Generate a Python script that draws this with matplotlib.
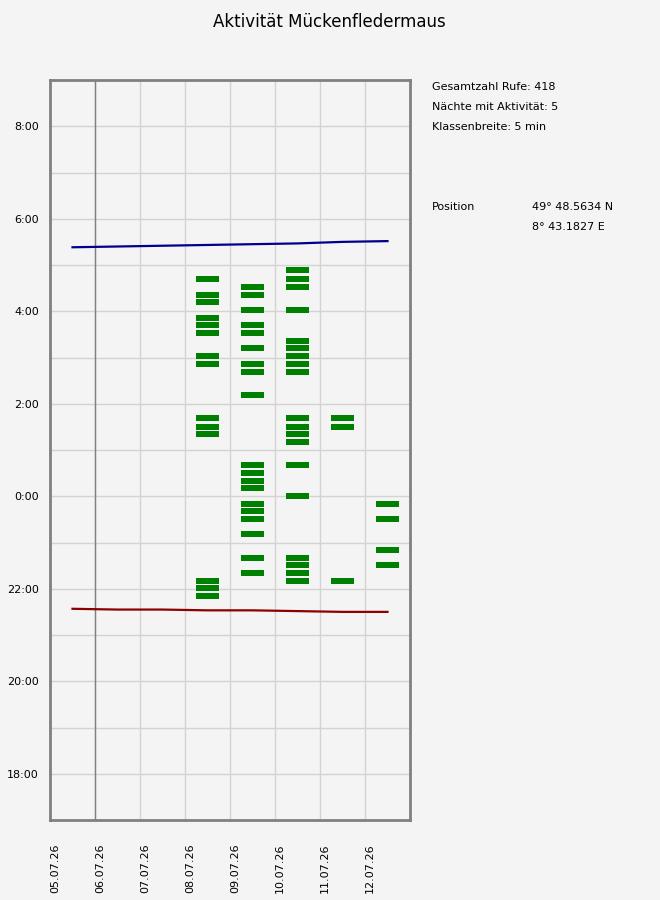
import matplotlib
matplotlib.use("Agg")
import matplotlib.pyplot as plt

# x axis: one label per date
dates = ['05.07.26', '06.07.26', '07.07.26', '08.07.26',
         '09.07.26', '10.07.26', '11.07.26', '12.07.26']

# sunrise / sunset per night (plotted in the middle of each day)
sunrise = ['5:23', '5:24', '5:25', '5:26', '5:27', '5:28', '5:30', '5:31']
sunset = ['21:34', '21:33', '21:33', '21:32', '21:32', '21:31', '21:30', '21:30']

# activity classes (5 min) per night, by start date of the night
night_0807 = ['4:42', '4:21', '4:12', '3:51', '3:42', '3:32', '3:02', '2:51',
              '1:41', '1:30', '1:21', '22:10', '22:01', '21:50']
night_0907 = ['4:32', '4:21', '4:02', '3:42', '3:32', '3:12', '2:51', '2:41',
              '2:11', '0:41', '0:30', '0:20', '0:11', '23:50', '23:41', '23:31',
              '23:11', '22:40', '22:20']
night_1007 = ['4:53', '4:42', '4:32', '4:02', '3:21', '3:12', '3:02', '2:51',
              '2:41', '1:41', '1:30', '1:21', '1:11', '0:41', '0:00', '22:40',
              '22:31', '22:20', '22:10']
night_1107 = ['1:41', '1:30', '22:10']
night_1207 = ['23:50', '23:31', '22:50', '22:31']

nights = {'08.07.26': night_0807, '09.07.26': night_0907, '10.07.26': night_1007,
          '11.07.26': night_1107, '12.07.26': night_1207}

info_lines = ['Gesamtzahl Rufe: 418', 'Nächte mit Aktivität: 5', 'Klassenbreite: 5 min']
position = ['49° 48.5634 N', '8° 43.1827 E']


def to_hours(s):
    h, m = s.split(':')
    v = int(h) + int(m) / 60.0
    if v >= 12:
        v -= 24
    return v


bg = '#f4f4f4'
plt.rcParams['font.family'] = 'DejaVu Sans'
fig = plt.figure(figsize=(6.6, 9), dpi=100, facecolor=bg)
ax = fig.add_axes([50/660, 80/900, 360/660, 740/900], facecolor=bg)

# grid
for d in range(1, len(dates)):
    ax.axvline(d, color='#d3d3d3', lw=1, zorder=0)
for h in range(-6, 9):
    ax.axhline(h, color='#d3d3d3', lw=1, zorder=0)
ax.axvline(1, color='#808080', lw=1, zorder=1)

# activity bars
for name, times in nights.items():
    xc = dates.index(name) + 0.5
    for t in times:
        y = to_hours(t)
        ax.bar(xc, 0.13, bottom=y - 0.065, width=0.51, color='#008000', zorder=3)

xs = [i + 0.5 for i in range(len(dates))]
ax.plot(xs, [to_hours(s) for s in sunrise], color='#00008b', lw=1.6, zorder=4)
ax.plot(xs, [to_hours(s) for s in sunset], color='#8b0000', lw=1.6, zorder=4)

ax.set_xlim(0, 8)
ax.set_ylim(-7, 9)
ax.set_xticks(range(len(dates)))
ax.set_xticklabels(dates, rotation=90, ha='left', va='top', fontsize=8)
yt = [-6, -4, -2, 0, 2, 4, 6, 8]
ax.set_yticks(yt)
ax.set_yticklabels(['%d:00' % (v % 24) for v in yt], fontsize=8)
ax.tick_params(axis='x', length=0, pad=17)
ax.tick_params(axis='y', length=0, pad=8)
for sp in ax.spines.values():
    sp.set_color('#808080')
    sp.set_linewidth(2)

fig.text(329/660, 1 - 22/900, 'Aktivität Mückenfledermaus', ha='center', va='center', fontsize=12)
for i, line in enumerate(info_lines):
    fig.text(432/660, 1 - (87 + 20*i)/900, line, ha='left', va='center', fontsize=8)
fig.text(432/660, 1 - 207/900, 'Position', ha='left', va='center', fontsize=8)
for i, line in enumerate(position):
    fig.text(532/660, 1 - (207 + 20*i)/900, line, ha='left', va='center', fontsize=8)

plt.savefig("out.png", dpi=100, facecolor=bg)
plt.close()
